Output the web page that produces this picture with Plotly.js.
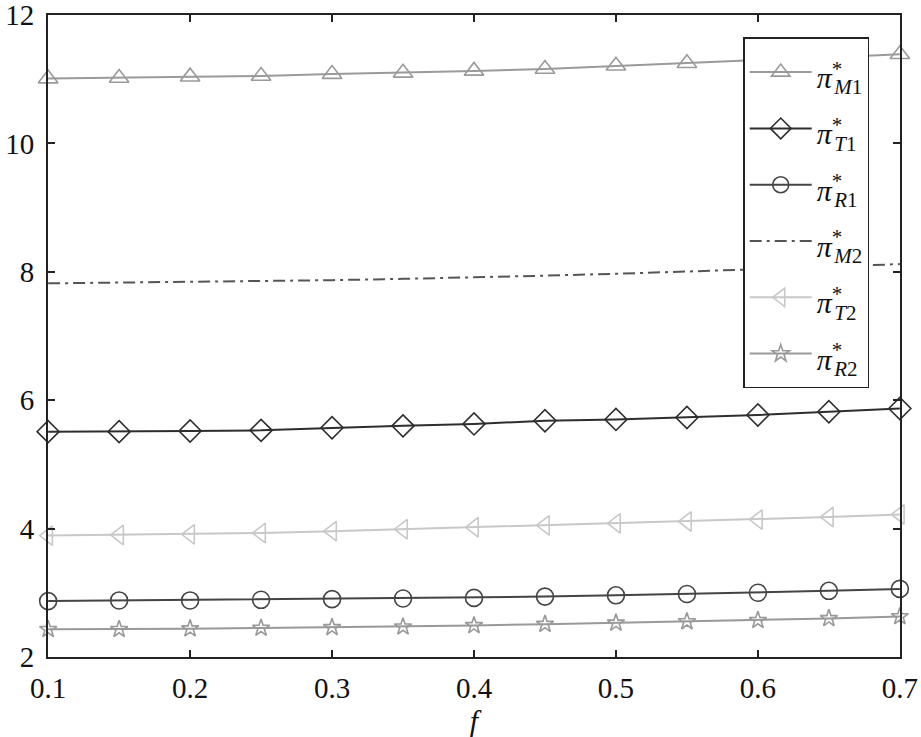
<!DOCTYPE html>
<html><head><meta charset="utf-8">
<script src="https://cdn.plot.ly/plotly-3.0.1.min.js"></script>
<style>body{margin:0;background:#fff}#chart{width:921px;height:737px}</style>
</head><body><div id="chart"></div>
<script>
const fVals = [0.1,0.15,0.2,0.25,0.3,0.35,0.4,0.45,0.5,0.55,0.6,0.65,0.7];
const piM1 = [11.01,11.02,11.04,11.05,11.08,11.10,11.13,11.16,11.21,11.25,11.30,11.34,11.39];
const piT1 = [5.51,5.51,5.52,5.53,5.57,5.60,5.63,5.68,5.70,5.73,5.77,5.82,5.87];
const piR1 = [2.87,2.88,2.88,2.89,2.90,2.91,2.92,2.94,2.96,2.98,3.00,3.03,3.06];
const piM2 = [7.82,7.83,7.84,7.85,7.87,7.89,7.91,7.94,7.97,8.00,8.04,8.08,8.12];
const piT2 = [3.89,3.90,3.91,3.93,3.96,3.99,4.02,4.05,4.08,4.11,4.14,4.18,4.22];
const piR2 = [2.43,2.43,2.44,2.45,2.46,2.47,2.49,2.51,2.53,2.55,2.57,2.60,2.63];
const names = ['M1','T1','R1','M2','T2','R2'];
const xTicks = [0.1,0.2,0.3,0.4,0.5,0.6,0.7];
const yTicks = [2,4,6,8,10,12];

function lbl(n){
  return '<span style="font-size:30px"><i>π</i><sup><span style="letter-spacing:-8px">*</span></sup><sub><i>'+n[0]+'</i>'+n[1]+'</sub></span>';
}
function tr(y, n, color, sym, size, dash){
  const t = {x:fVals, y:y, name:lbl(n), type:'scatter', mode: sym? 'lines+markers':'lines',
    line:{color:color, width: 2, dash: dash||'solid'}, cliponaxis:false};
  if(sym) t.marker = {symbol:sym, size:size, color:color, line:{color:color, width:1.6}};
  return t;
}
const data = [
  tr(piM1, names[0], '#9a9a9a', 'triangle-up-open', 17),
  tr(piT1, names[1], '#2e2e2e', 'diamond-open', 17),
  tr(piR1, names[2], '#444444', 'circle-open', 17),
  tr(piM2, names[3], '#555555', null, 0, '12px,5px,3px,5px'),
  tr(piT2, names[4], '#c8c8c8', 'triangle-left-open', 17),
  tr(piR2, names[5], '#999999', 'star-open', 13)
];
const FAM = 'Liberation Serif, Times New Roman, serif';
const layout = {
  width:921, height:737,
  margin:{l:48, r:21, t:15, b:80},
  paper_bgcolor:'#fff', plot_bgcolor:'#fff',
  font:{family:FAM, size:29, color:'#111'},
  showlegend:true,
  legend:{x:0.816, y:0.965, xanchor:'left', yanchor:'top', bgcolor:'#fff', itemwidth:62,
    bordercolor:'#222', borderwidth:1.5, font:{family:FAM, size:41, color:'#111'}, tracegroupgap:0},
  xaxis:{range:[0.0999,0.7001], tickvals:xTicks, ticktext:xTicks.map(v=>v.toFixed(1)),
    showline:true, linecolor:'#222', linewidth:2, mirror:'ticks', ticks:'inside', ticklen:7,
    tickcolor:'#222', tickwidth:2, showgrid:false, zeroline:false, ticklabelstandoff:4,
    ticklabeloverflow:'allow',
    title:{text:'<i>f</i>', font:{family:FAM, size:30, color:'#111'}, standoff:2}},
  yaxis:{range:[1.999,12.001], tickvals:yTicks, showline:true, linecolor:'#222', linewidth:2,
    mirror:'ticks', ticks:'inside', ticklen:7, tickcolor:'#222', tickwidth:2,
    showgrid:false, zeroline:false, ticklabelstandoff:6, ticklabeloverflow:'allow'}
};
Plotly.newPlot('chart', data, layout, {displayModeBar:false, staticPlot:true});
</script></body></html>
